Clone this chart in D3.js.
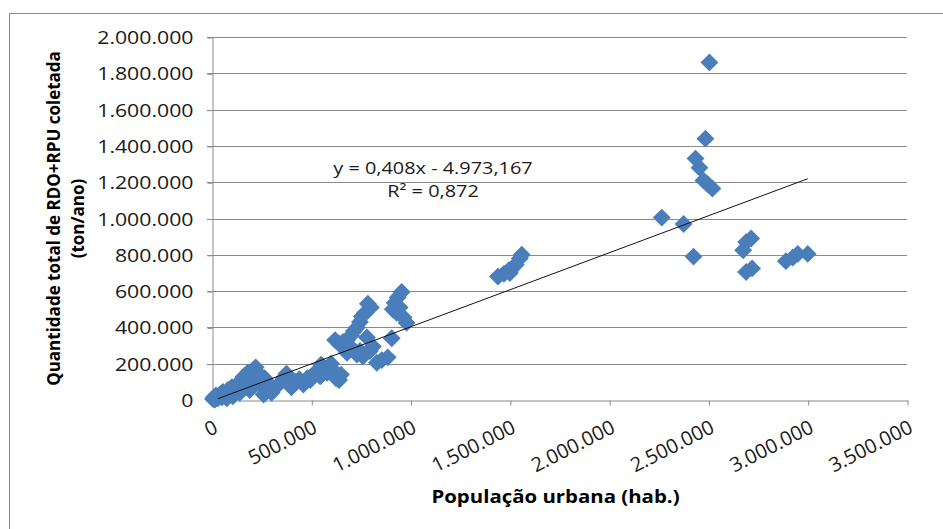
<!DOCTYPE html>
<html>
<head>
<meta charset="utf-8">
<script src="https://cdn.jsdelivr.net/npm/d3@7"></script>
<style>
  body { margin: 0; background: #fff; }
  #chart { width: 943px; height: 529px; }
  text { font-family: "Open Sans", "Liberation Sans", sans-serif; }
</style>
</head>
<body>
<div id="chart"></div>
<script>
// População urbana (hab.)
const populacao = [
  5000, 10000, 15000, 20000, 30000, 40000, 50000, 55000, 65000, 75000,
  80000, 90000, 100000, 105000, 120000, 130000, 140000, 150000, 160000, 170000,
  180000, 190000, 200000, 210000, 220000, 230000, 240000, 250000, 260000, 265000,
  275000, 280000, 300000, 310000, 340000, 360000, 375000, 385000, 400000, 420000,
  440000, 460000, 480000, 495000, 510000, 530000, 545000, 565000, 580000, 600000,
  610000, 625000, 640000, 650000, 640000, 660000, 680000, 700000, 715000, 730000,
  745000, 755000, 770000, 785000, 800000, 730000, 745000, 760000, 780000, 795000,
  810000, 830000, 855000, 885000, 905000, 910000, 920000, 935000, 955000, 945000,
  930000, 965000, 980000, 700000, 680000, 620000, 550000,
  1440000, 1470000, 1495000, 1515000, 1530000, 1550000, 1560000, 1500000,
  2505000, 2485000, 2435000, 2455000, 2475000, 2495000, 2520000, 2265000, 2375000, 2425000,
  2690000, 2720000, 2675000, 2690000, 2715000, 2890000, 2925000, 2950000, 3000000
];
// Quantidade total de RDO+RPU coletada (ton/ano)
const quantidade = [
  5000, 15000, 2000, 25000, 10000, 30000, 15000, 45000, 35000, 10000,
  55000, 30000, 70000, 20000, 50000, 90000, 40000, 110000, 130000, 70000,
  150000, 55000, 120000, 165000, 180000, 100000, 140000, 75000, 30000, 120000,
  55000, 95000, 40000, 65000, 90000, 120000, 145000, 110000, 70000, 100000,
  115000, 85000, 120000, 110000, 140000, 160000, 130000, 175000, 150000, 200000,
  165000, 120000, 110000, 140000, 310000, 320000, 330000, 355000, 380000, 400000,
  430000, 460000, 480000, 530000, 510000, 250000, 270000, 240000, 345000, 270000,
  295000, 205000, 220000, 235000, 340000, 500000, 535000, 565000, 595000, 510000,
  480000, 455000, 425000, 290000, 260000, 330000, 195000,
  680000, 695000, 715000, 730000, 745000, 780000, 800000, 700000,
  1860000, 1440000, 1330000, 1280000, 1210000, 1190000, 1165000, 1005000, 970000, 790000,
  705000, 725000, 825000, 870000, 890000, 765000, 785000, 805000, 805000
];
const xTicks = [0, 500000, 1000000, 1500000, 2000000, 2500000, 3000000, 3500000];
const yTicks = [0, 200000, 400000, 600000, 800000, 1000000, 1200000, 1400000, 1600000, 1800000, 2000000];
const trendSlope = 0.408;
const trendIntercept = -4973.167;
const trendRange = [30000, 3000000];
const equationLines = ["y = 0,408x - 4.973,167", "R² = 0,872"];

const W = 943, H = 529;
const plot = { left: 212, right: 907, top: 37, bottom: 400 };
const stretch = 1.17; // the reference text is a bit wide

const svg = d3.select("#chart").append("svg")
  .attr("width", W).attr("height", H);

// chart frame (runs off right/bottom in the reference)
svg.append("rect")
  .attr("x", 9.5).attr("y", 13.5)
  .attr("width", 1000).attr("height", 600)
  .attr("fill", "none").attr("stroke", "#8c8c8c");

const x = d3.scaleLinear().domain([0, 3500000]).range([plot.left, plot.right]);
const y = d3.scaleLinear().domain([0, 2000000]).range([plot.bottom, plot.top]);

const pt = d3.formatLocale({ decimal: ",", thousands: ".", grouping: [3], currency: ["", ""] });
const fmt = pt.format(",d");

// gridlines
svg.append("g").selectAll("line")
  .data(yTicks.filter(d => d > 0))
  .join("line")
    .attr("x1", plot.left - 5).attr("x2", plot.right)
    .attr("y1", d => Math.round(y(d)) + 0.5).attr("y2", d => Math.round(y(d)) + 0.5)
    .attr("stroke", "#8a8a8a").attr("stroke-width", 1);

// y axis
const yAxis = svg.append("g")
  .attr("transform", `translate(${plot.left + 0.5},0.5)`)
  .call(d3.axisLeft(y).tickValues(yTicks).tickFormat(fmt).tickSize(5).tickSizeOuter(0));
yAxis.select(".domain").attr("stroke", "#8a8a8a");
yAxis.selectAll(".tick line").attr("stroke", "#8a8a8a");
yAxis.selectAll("text")
  .attr("x", 0)
  .attr("transform", `translate(-19,0) scale(1.12,1)`)
  .attr("font-size", "19px").attr("fill", "#1a1a1a")
  .attr("font-family", "'Open Sans', sans-serif");

// x axis
const xAxis = svg.append("g")
  .attr("transform", `translate(0.5,${plot.bottom + 0.5})`)
  .call(d3.axisBottom(x).tickValues(xTicks).tickFormat(fmt).tickSize(5).tickSizeOuter(0));
xAxis.select(".domain").attr("stroke", "#8a8a8a");
xAxis.selectAll(".tick line").attr("stroke", "#8a8a8a");
xAxis.selectAll("text")
  .attr("font-size", "20px").attr("fill", "#1a1a1a")
  .attr("font-family", "'Open Sans', sans-serif")
  .attr("text-anchor", "end")
  .attr("dy", "0.35em")
  .attr("transform", "translate(3,25) rotate(-27)")
  .attr("y", 0);

// points
const pts = populacao.map((p, i) => ({ x: p, y: quantidade[i] }));
const diamond = d3.symbol().type(d3.symbolSquare).size(160);
svg.append("g").selectAll("path")
  .data(pts)
  .join("path")
    .attr("d", diamond)
    .attr("transform", d => `translate(${x(d.x)},${y(d.y)}) rotate(45)`)
    .attr("fill", "#4a7ebb");

// trend line
const trend = trendRange.map(v => ({ x: v, y: trendSlope * v + trendIntercept }));
svg.append("path")
  .datum(trend)
  .attr("d", d3.line().x(d => x(d.x)).y(d => y(d.y)))
  .attr("fill", "none").attr("stroke", "#111").attr("stroke-width", 1);

// equation
svg.append("g").selectAll("text")
  .data(equationLines)
  .join("text")
    .attr("transform", (d, i) => `translate(433,${174 + i * 23}) scale(${stretch},1)`)
    .attr("text-anchor", "middle")
    .attr("font-size", "17px").attr("fill", "#1a1a1a")
    .text(d => d);

// axis titles
svg.append("text")
  .attr("transform", `translate(${(plot.left + plot.right) / 2 - 4},503) scale(1.2,1)`)
  .attr("text-anchor", "middle")
  .attr("font-size", "17px").attr("font-weight", "bold")
  .text("População urbana (hab.)");

const yTitle = svg.append("text")
  .attr("transform", `translate(0,${(plot.top + plot.bottom) / 2}) rotate(-90)`)
  .attr("text-anchor", "middle")
  .attr("font-size", "17px").attr("font-weight", "bold");
yTitle.append("tspan").attr("x", 0).attr("y", 60).text("Quantidade total de RDO+RPU coletada");
yTitle.append("tspan").attr("x", 0).attr("y", 84).text("(ton/ano)");
</script>
</body>
</html>
